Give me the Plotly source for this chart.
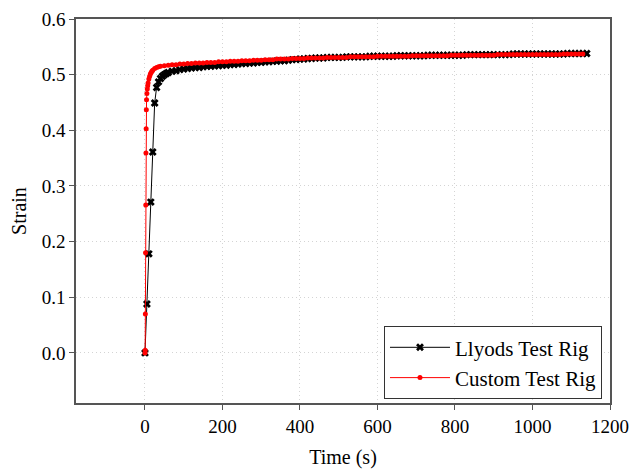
import plotly.graph_objects as go

# ---------------- data ----------------
lloyds_time = [0, 5, 10, 15, 20, 25, 30, 35, 40, 45, 50, 55, 60] + list(range(70, 1141, 10))
lloyds_strain = [
    0.000, 0.088, 0.178, 0.271, 0.361, 0.449, 0.477, 0.487, 0.493, 0.497, 0.500, 0.502, 0.504,
    0.506, 0.507, 0.509, 0.510, 0.511, 0.512, 0.513, 0.513, 0.514, 0.515, 0.515, 0.516, 0.516, 0.517,
    0.517, 0.518, 0.518, 0.519, 0.520, 0.520, 0.521, 0.521, 0.522, 0.522, 0.523, 0.523, 0.524, 0.524,
    0.525, 0.525, 0.526, 0.527, 0.527, 0.528,
    0.528, 0.529, 0.529, 0.530, 0.530, 0.530, 0.531, 0.531, 0.531, 0.531, 0.531, 0.532, 0.532, 0.532,
    0.532, 0.532, 0.532, 0.533, 0.533, 0.533,
    0.533, 0.533, 0.533, 0.533, 0.534, 0.534, 0.534, 0.534, 0.534, 0.534, 0.534, 0.534, 0.535, 0.535,
    0.535, 0.535, 0.535, 0.535, 0.535, 0.535,
    0.535, 0.535, 0.536, 0.536, 0.536, 0.536, 0.536, 0.536, 0.536, 0.536, 0.536, 0.536, 0.536, 0.536,
    0.537, 0.537, 0.537, 0.537, 0.537, 0.537,
    0.537, 0.537, 0.537, 0.537, 0.537, 0.537, 0.537, 0.537, 0.538, 0.538, 0.538, 0.538, 0.538, 0.538,
]

custom_time = [0, 0.5, 1, 1.5, 2, 2.5, 3, 3.5, 4, 5, 6, 7, 8, 10, 12, 14, 16, 18, 20, 25, 30, 35,
               40, 50, 60] + list(range(70, 1131, 10))
custom_strain = [
    0.000, 0.005, 0.070, 0.180, 0.266, 0.359, 0.403, 0.437, 0.455, 0.466, 0.474, 0.480, 0.485,
    0.492, 0.497, 0.501, 0.504, 0.506, 0.508, 0.511, 0.513, 0.514, 0.515, 0.516, 0.517,
    0.518, 0.518, 0.519, 0.519, 0.520, 0.520, 0.521, 0.521, 0.521, 0.522, 0.522, 0.522, 0.523, 0.523,
    0.523, 0.524, 0.524, 0.524, 0.525, 0.525, 0.525, 0.526, 0.526, 0.526, 0.527, 0.527, 0.527, 0.528,
    0.528, 0.528, 0.528, 0.529, 0.529, 0.529,
    0.529, 0.530, 0.530, 0.530, 0.530, 0.530, 0.531, 0.531, 0.531, 0.531, 0.531, 0.531, 0.532, 0.532,
    0.532, 0.532, 0.532, 0.532, 0.532, 0.533,
    0.533, 0.533, 0.533, 0.533, 0.533, 0.533, 0.533, 0.533, 0.534, 0.534, 0.534, 0.534, 0.534, 0.534,
    0.534, 0.534, 0.534, 0.534, 0.535, 0.535,
    0.535, 0.535, 0.535, 0.535, 0.535, 0.535, 0.535, 0.535, 0.535, 0.535, 0.536, 0.536, 0.536, 0.536,
    0.536, 0.536, 0.536, 0.536, 0.536, 0.536,
    0.536, 0.536, 0.536, 0.536, 0.536, 0.536, 0.536, 0.537, 0.537, 0.537, 0.537, 0.537, 0.537,
]

x_ticks = [0, 200, 400, 600, 800, 1000, 1200]
y_ticks = [0.0, 0.1, 0.2, 0.3, 0.4, 0.5, 0.6]
series_names = ["Llyods Test Rig", "Custom Test Rig"]

FONT = "Liberation Serif, Times New Roman, serif"

fig = go.Figure()
fig.add_trace(go.Scatter(
    x=lloyds_time, y=lloyds_strain, name=series_names[0], mode="lines+markers",
    line=dict(color="black", width=1),
    marker=dict(symbol="x", size=7, color="black"),
))
fig.add_trace(go.Scatter(
    x=custom_time, y=custom_strain, name=series_names[1], mode="lines+markers",
    line=dict(color="red", width=1),
    marker=dict(symbol="circle", size=5, color="red"),
))

axis_common = dict(
    showline=True, linecolor="#555555", linewidth=1.5, mirror=True,
    ticks="outside", ticklen=5, tickcolor="#555555", tickwidth=1,
    showgrid=True, gridcolor="#d4d4d4", griddash="1px,3px", gridwidth=1,
    zeroline=False, automargin=False,
    tickfont=dict(family=FONT, size=19, color="black"),
)

fig.update_layout(
    width=633, height=470,
    margin=dict(l=76, r=23, t=19, b=67),
    paper_bgcolor="white", plot_bgcolor="white",
    font=dict(family=FONT, size=19, color="black"),
    xaxis=dict(range=[-178, 1200], tickvals=x_ticks,
               title=dict(text="Time (s)", font=dict(family=FONT, size=20), standoff=14),
               **axis_common),
    yaxis=dict(range=[-0.09, 0.6], tickvals=y_ticks, tickformat=".1f",
               title=dict(text="Strain", font=dict(family=FONT, size=20), standoff=10),
               **axis_common),
    legend=dict(x=0.985, y=0.01, xanchor="right", yanchor="bottom",
                bordercolor="#333333", borderwidth=1, bgcolor="white",
                font=dict(family=FONT, size=21), tracegroupgap=0, itemwidth=60),
    showlegend=True,
)

fig.write_html("out.html")
